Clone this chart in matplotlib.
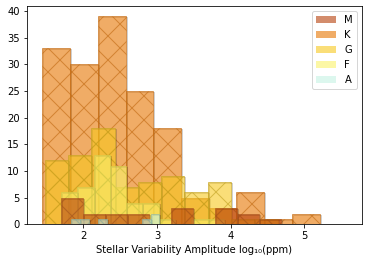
import numpy as np
import matplotlib
matplotlib.use("Agg")
import matplotlib.pyplot as plt
import matplotlib.patches as mpatches
import matplotlib.patheffects as pe

# spectral classes, in legend order
classes = ["M", "K", "G", "F", "A"]

# histogram range (log10 ppm) and counts per class, 10 bins each
M_range = (1.690, 4.683)
M_counts = [5, 2, 2, 2, 0, 3, 0, 3, 2, 1]

K_range = (1.442, 5.211)
K_counts = [33, 30, 39, 25, 18, 5, 3, 6, 1, 2]

G_range = (1.472, 4.642)
G_counts = [12, 13, 18, 7, 8, 9, 6, 8, 1, 1]

F_range = (1.693, 3.910)
F_counts = [6, 7, 13, 11, 4, 4, 1, 0, 1, 1]

A_range = (1.833, 3.034)
A_counts = [1, 1, 0, 1, 0, 0, 0, 0, 1, 2]

ranges = [M_range, K_range, G_range, F_range, A_range]
counts = [M_counts, K_counts, G_counts, F_counts, A_counts]

faces = ["#b73f0a", "#e67500", "#f7c81e", "#faf369", "#c5f3e3"]
edges = ["#a85520", "#c06810", "#c0a020", "#d0c848", "#88b0a0"]
zorders = [5, 2, 3, 4, 6]

fig, ax = plt.subplots(figsize=(368 / 72, 262 / 72), dpi=72)
fig.subplots_adjust(left=0.073, right=0.984, bottom=0.144, top=0.977)

for name, rng, cnt, fc, ec, z in zip(classes, ranges, counts, faces, edges, zorders):
    bins = np.linspace(rng[0], rng[1], len(cnt) + 1)
    centers = (bins[:-1] + bins[1:]) / 2
    _, _, patches = ax.hist(centers, bins=bins, weights=cnt, facecolor=fc,
                            edgecolor=ec, hatch="x", alpha=0.6, linewidth=1,
                            zorder=z)
    for p in patches:
        p.set_path_effects([pe.PathPatchEffect(offset=(1, -1), facecolor="none",
                                               edgecolor="k", linewidth=0.6,
                                               alpha=0.3),
                            pe.Normal()])

handles = [mpatches.Patch(facecolor=fc, alpha=0.6, label=name)
           for name, fc in zip(classes, faces)]

ax.set_xlim(1.23, 5.79)
ax.set_xticks([2, 3, 4, 5])
ax.set_xlabel("Stellar Variability Amplitude log\u2081\u2080(ppm)", fontsize=10)
ax.tick_params(labelsize=10)
ax.legend(handles=handles, loc="upper right", fontsize=10)

fig.savefig("out.png", dpi=72)
